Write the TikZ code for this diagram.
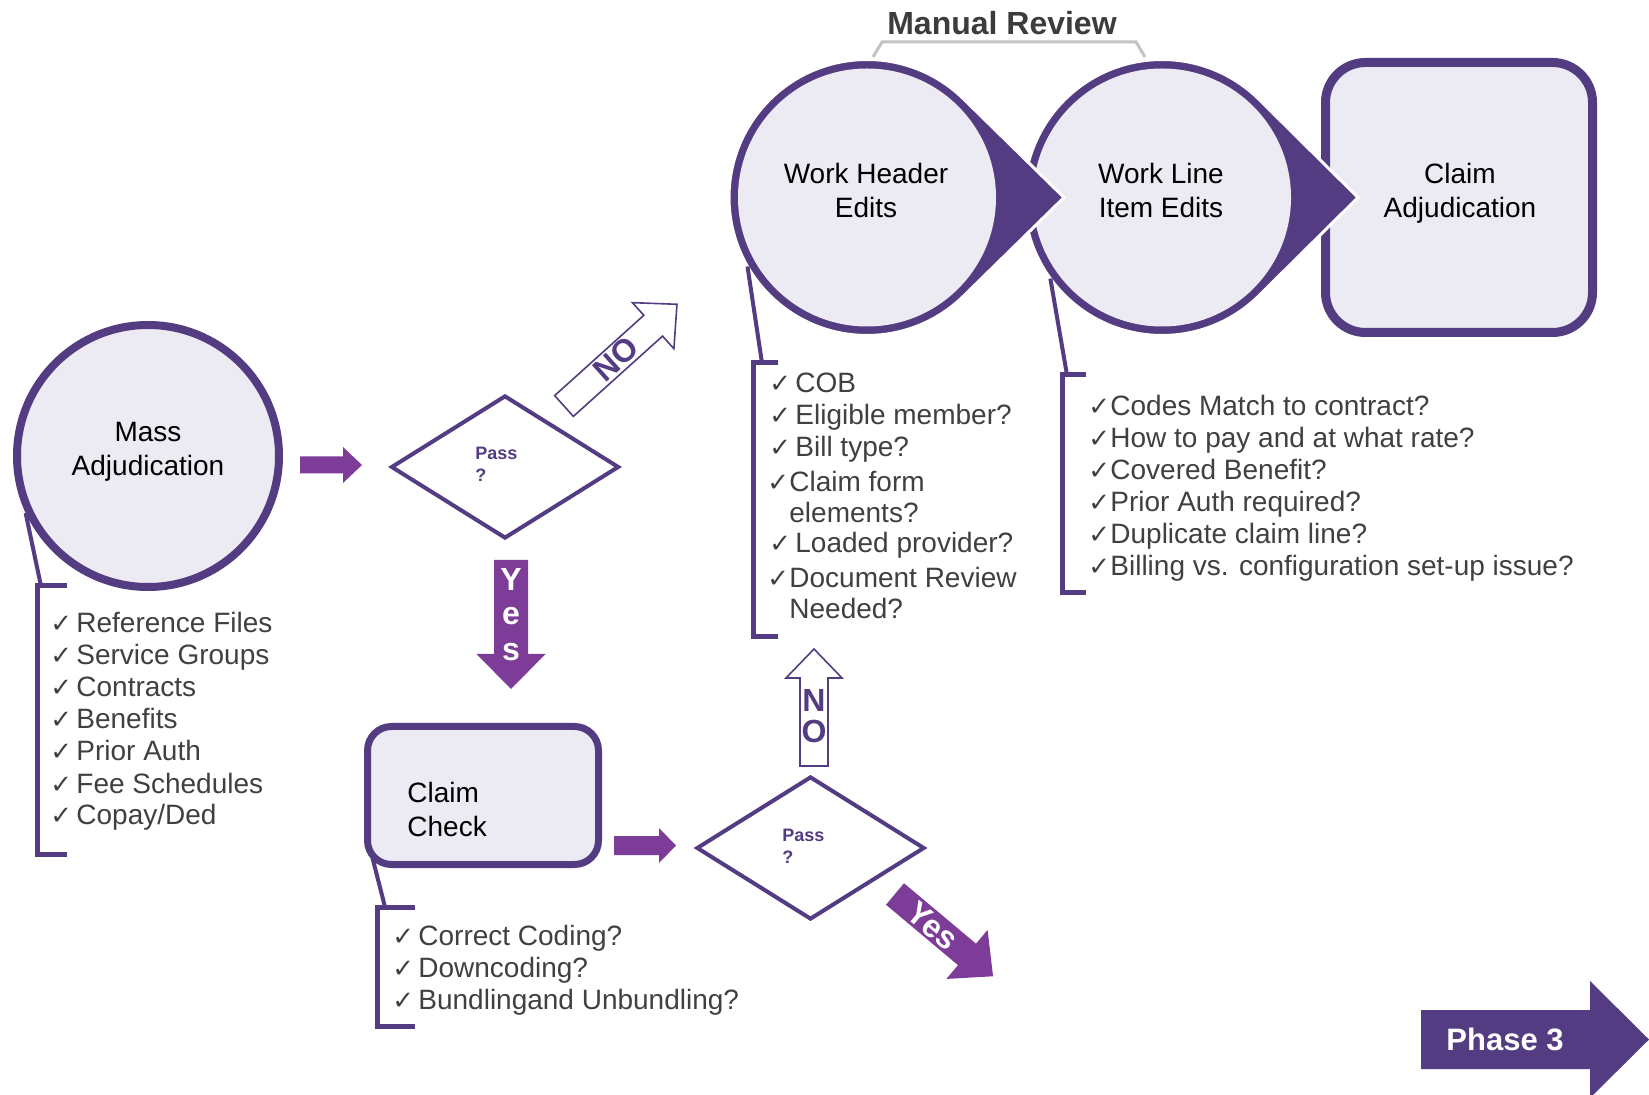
\documentclass[tikz,border=0pt]{standalone}
\usepackage{fontspec}
\setmainfont{Liberation Sans}
\newfontfamily\symf{DejaVu Sans}
\usetikzlibrary{shapes.geometric}
\definecolor{dk}{RGB}{84,60,130}
\definecolor{ar}{RGB}{125,60,152}
\definecolor{lt}{RGB}{236,234,242}
\definecolor{tx}{RGB}{64,64,64}
\definecolor{gr}{RGB}{195,195,195}
\definecolor{mrc}{RGB}{60,60,60}
\newcommand{\ck}[1][13pt]{\makebox[#1][l]{\symf\fontsize{13}{13}\selectfont ✓}}
\newcommand{\barrow}[7]{\path[#1,shift={(#2)},rotate=#3] (0,-#5) -- ({#4-#7},-#5) -- ({#4-#7},-#6) -- (#4,0) -- ({#4-#7},#6) -- ({#4-#7},#5) -- (0,#5) -- cycle;}
\begin{document}
\begin{tikzpicture}[x=0.5pt,y=-0.5pt,
 lab/.style={font=\fontsize{14}{17}\selectfont, text=black, align=center, inner sep=0pt},
 lst/.style={font=\fontsize{14}{16}\selectfont, text=tx, inner sep=0pt, anchor=base west},
 brk/.style={draw=dk, line width=2.5pt},
 lnk/.style={draw=dk, line width=2pt},
 pass/.style={font=\bfseries\fontsize{9}{11}\selectfont, text=dk, align=left, inner sep=0pt, anchor=west},
 decision/.style={diamond, draw=dk, line width=2pt, fill=white, minimum width=114pt, minimum height=71.5pt, inner sep=0pt},
 solidarrow/.style={fill=ar},
 openarrow/.style={draw=dk, line width=0.8pt, fill=white},
 bigtxt/.style={font=\bfseries\fontsize{16}{16}\selectfont, inner sep=0pt},
 tear/.style={fill=dk, draw=white, line width=1.5pt},
 inner/.style={circle, fill=lt, minimum size=129pt, inner sep=0pt, outer sep=4.5pt},
]
\fill[white] (0,0) rectangle (1649,1095);
\useasboundingbox (0,0) rectangle (1649,1095);

% ---------- Manual review bracket
\node[font=\bfseries\fontsize{16}{16}\selectfont, text=mrc, inner sep=0pt] (mr) at (1002,23) {Manual Review};
\coordinate (mr1) at (873,57); \coordinate (mr2) at (882,42);
\coordinate (mr3) at (1136,42); \coordinate (mr4) at (1145,57);
\draw[gr, line width=1.5pt] (mr1) -- (mr2) -- (mr3) -- (mr4);

% ---------- Mass adjudication
\node[circle, draw=dk, fill=lt, line width=4pt, minimum size=131pt, inner sep=0pt] (ma) at (148,456) {};
\node[lab] (ma-t) at (148,452) {Mass\\Adjudication};
\coordinate (mab0) at (41,586); \coordinate (mab1) at (37,586); \coordinate (mab2) at (37,854);
\draw[brk] (67,586) -- (mab1) -- (mab2) -- (67,854);
\draw[lnk] (ma.205) -- (mab0);
\foreach \t [count=\i from 0] in {{Reference Files},{Service Groups},{Contracts},{Benefits},{Prior Auth},{Fee Schedules},{Copay/Ded}}
  \node[lst] (ma-l\i) at (50,{633+32*\i}) {\ck\t};

% arrow to first decision
\coordinate (a1) at (300,465);
\barrow{solidarrow}{a1}{0}{62}{8.5}{18}{19}

% ---------- decision 1
\node[decision] (d1) at (505,467) {};
\node[pass] (d1-t) at (475,464) {Pass\\?};

% NO diagonal (open)
\coordinate (no1) at (564,406);
\barrow{openarrow}{no1}{42}{152}{14}{31}{32}
\node[bigtxt, text=dk, rotate=42] (no1-t) at (616,359) {NO};

% Yes down
\coordinate (ys1) at (511,560);
\barrow{solidarrow}{ys1}{-90}{129}{17}{34.5}{35}
\node[bigtxt, text=white] (ys1-a) at (511,579) {Y};
\node[bigtxt, text=white] (ys1-b) at (511,616) {e};
\node[bigtxt, text=white] (ys1-c) at (511,652) {s};

% ---------- Claim check
\node[draw=dk, fill=lt, line width=3.5pt, rounded corners=12pt, minimum width=115.5pt, minimum height=69pt, inner sep=0pt] (cc) at (483,795.5) {};
\node[lab, align=left, anchor=west] (cc-t) at (407,809) {Claim\\Check};
\coordinate (ccs) at (372,856);
\coordinate (cb0) at (385,907); \coordinate (cb1) at (377,907); \coordinate (cb2) at (377,1026);
\draw[brk] (415,907) -- (cb1) -- (cb2) -- (415,1026);
\draw[lnk] (ccs) -- (cb0);
\foreach \t [count=\i from 0] in {{Correct Coding?},{Downcoding?},{Bundlingand Unbundling?}}
  \node[lst] (cc-l\i) at (392,{945+32*\i}) {\ck\t};

\coordinate (a2) at (614,845.5);
\barrow{solidarrow}{a2}{0}{62}{9.5}{17.5}{17}

% ---------- decision 2
\node[decision] (d2) at (810.5,848) {};
\node[pass] (d2-t) at (782,846) {Pass\\?};

\coordinate (no2) at (814,766);
\barrow{openarrow}{no2}{90}{117}{14}{28}{29}
\node[bigtxt, text=dk] (no2-a) at (814,700) {N};
\node[bigtxt, text=dk] (no2-b) at (814,731) {O};

\coordinate (ys2) at (895,894);
\barrow{solidarrow}{ys2}{-40}{128}{14}{32}{34}
\node[bigtxt, text=white, rotate=-40] (ys2-t) at (933,926) {Yes};

% ---------- Top row
\node[draw=dk, fill=lt, line width=4.5pt, rounded corners=20pt, minimum width=133.5pt, minimum height=135pt, inner sep=0pt] (ca) at (1459,197.5) {};

\coordinate (wlc) at (1162,197.5); \coordinate (wlp) at (1358,197.5);
\path[tear] (wlp) -- ([shift={(wlc)}]45.3:69pt) arc[start angle=45.3, end angle=314.7, radius=69pt] -- cycle;
\node[inner] (wl) at (wlc) {};

\coordinate (whc) at (867,197.5); \coordinate (whp) at (1064,197.5);
\path[tear] (whp) -- ([shift={(whc)}]45.5:69pt) arc[start angle=45.5, end angle=314.5, radius=69pt] -- cycle;
\node[inner] (wh) at (whc) {};

\node[lab] (wh-t) at (866,190) {Work Header\\Edits};
\node[lab] (wl-t) at (1161,190) {Work Line\\Item Edits};
\node[lab] (ca-t) at (1460,193) {Claim\\Adjudication};

% WH bracket and list
\coordinate (whb0) at (762,363); \coordinate (whb1) at (753,363); \coordinate (whb2) at (753,637);
\draw[brk] (778,363) -- (whb1) -- (whb2) -- (778,637);
\draw[lnk] (wh.210) -- (whb0);
\node[lst] (wh-l1) at (769,393) {\ck[13pt]COB};
\node[lst] (wh-l2) at (769,425) {\ck[13pt]Eligible member?};
\node[lst] (wh-l3) at (769,457) {\ck[13pt]Bill type?};
\node[lst] (wh-l4) at (767,492) {\ck[11pt]Claim form};
\node[lst] (wh-l5) at (789,523) {elements?};
\node[lst] (wh-l6) at (769,553) {\ck[13pt]Loaded provider?};
\node[lst] (wh-l7) at (767,588) {\ck[11pt]Document Review};
\node[lst] (wh-l8) at (789,619) {Needed?};

% WL bracket and list
\coordinate (wlb0) at (1067,375); \coordinate (wlb1) at (1062,375); \coordinate (wlb2) at (1062,593);
\draw[brk] (1086,375) -- (wlb1) -- (wlb2) -- (1086,593);
\draw[lnk] (wl.216) -- (wlb0);
\foreach \t [count=\i from 0] in {{Codes Match to contract?},{How to pay and at what rate?},{Covered Benefit?},{Prior Auth required?},{Duplicate claim line?},{Billing vs. configuration set-up issue?}}
  \node[lst] (wl-l\i) at (1088,{416+32*\i}) {\ck[11pt]\t};

% ---------- Phase 3
\coordinate (ph) at (1421,1039.5);
\barrow{fill=dk}{ph}{0}{228}{29.5}{58.5}{59}
\node[font=\bfseries\fontsize{15.5}{16}\selectfont, text=white, inner sep=0pt] (ph-t) at (1505,1039) {Phase 3};
\end{tikzpicture}
\end{document}
